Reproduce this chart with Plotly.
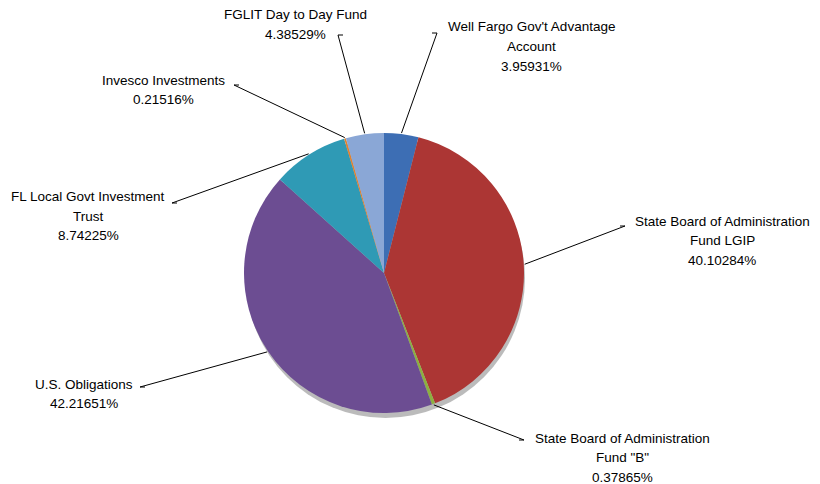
import math
import plotly.graph_objects as go

labels = ["Well Fargo Gov't Advantage Account", "State Board of Administration Fund LGIP",
          "State Board of Administration Fund \"B\"", "U.S. Obligations",
          "FL Local Govt Investment Trust", "Invesco Investments", "FGLIT Day to Day Fund"]
label_lines = [["Well Fargo Gov't Advantage", "Account"],
               ["State Board of Administration", "Fund LGIP"],
               ["State Board of Administration", "Fund \"B\""],
               ["U.S. Obligations"],
               ["FL Local Govt Investment", "Trust"],
               ["Invesco Investments"],
               ["FGLIT Day to Day Fund"]]
values = [3.95931, 40.10284, 0.37865, 42.21651, 8.74225, 0.21516, 4.38529]
value_text = ["3.95931%", "40.10284%", "0.37865%", "42.21651%", "8.74225%", "0.21516%", "4.38529%"]
colors = ["#3D6EB4", "#AC3634", "#8CB040", "#6C4D92", "#2F9AB5", "#E08230", "#8AA7D6"]

W, H = 820, 484
CX, CY, R = 384, 273, 140

# label layout: text centre x, first line y (centre), leader tick x, side of tick
label_pos = [
    (531, 27, 437, "left"),
    (722, 221, 625, "left"),
    (622, 438, 524, "left"),
    (84, 384, 140, "right"),
    (88, 197, 172, "right"),
    (163, 80, 234, "right"),
    (295, 15, 338, "right"),
]
tick_y = [33, 226, 440, 387, 203, 85, 35]
LINE_GAP = 19.5

def px(x):
    return x / W

def py(y):
    return 1 - y / H

fig = go.Figure()
fig.add_trace(go.Pie(
    labels=labels, values=values, sort=False, direction="clockwise", rotation=0,
    marker=dict(colors=colors, line=dict(width=0)),
    textinfo="none", hoverinfo="label+percent", showlegend=False,
    domain=dict(x=[px(CX - R), px(CX + R)], y=[py(CY + R), py(CY - R)]),
))

shapes = []
# soft shadow under the pie
shapes.append(dict(type="circle", xref="paper", yref="paper", layer="below",
                   x0=px(CX - R + 2), x1=px(CX + R + 1), y0=py(CY + R + 5), y1=py(CY - R + 5),
                   fillcolor="rgba(60,60,60,0.35)", line=dict(width=0)))

annotations = []
total = sum(values)
cum = 0.0
for i, v in enumerate(values):
    mid = (cum + v / 2) / total
    cum += v
    ang = 2 * math.pi * mid
    sx = CX + (R + 1) * math.sin(ang)
    sy = CY - (R + 1) * math.cos(ang)
    tx, ty0, tickx, side = label_pos[i]
    ty = tick_y[i]
    tick_end = tickx - 5 if side == "left" else tickx + 5
    shapes.append(dict(type="line", xref="paper", yref="paper",
                       x0=px(sx), y0=py(sy), x1=px(tickx), y1=py(ty),
                       line=dict(color="black", width=1)))
    shapes.append(dict(type="line", xref="paper", yref="paper",
                       x0=px(tickx), y0=py(ty), x1=px(tick_end), y1=py(ty),
                       line=dict(color="black", width=1)))
    lines = label_lines[i] + [value_text[i]]
    for k, line in enumerate(lines):
        annotations.append(dict(x=px(tx), y=py(ty0 + k * LINE_GAP), xref="paper", yref="paper",
                                text=line, showarrow=False, xanchor="center", yanchor="middle",
                                font=dict(family="Liberation Sans, Arial", size=13.5, color="black")))

fig.update_layout(
    width=W, height=H, margin=dict(l=0, r=0, t=0, b=0),
    paper_bgcolor="white", plot_bgcolor="white",
    shapes=shapes, annotations=annotations,
)
fig.write_html("out.html", config={"displayModeBar": False},
               post_script="document.body.style.margin='0';document.body.style.overflow='hidden';")
